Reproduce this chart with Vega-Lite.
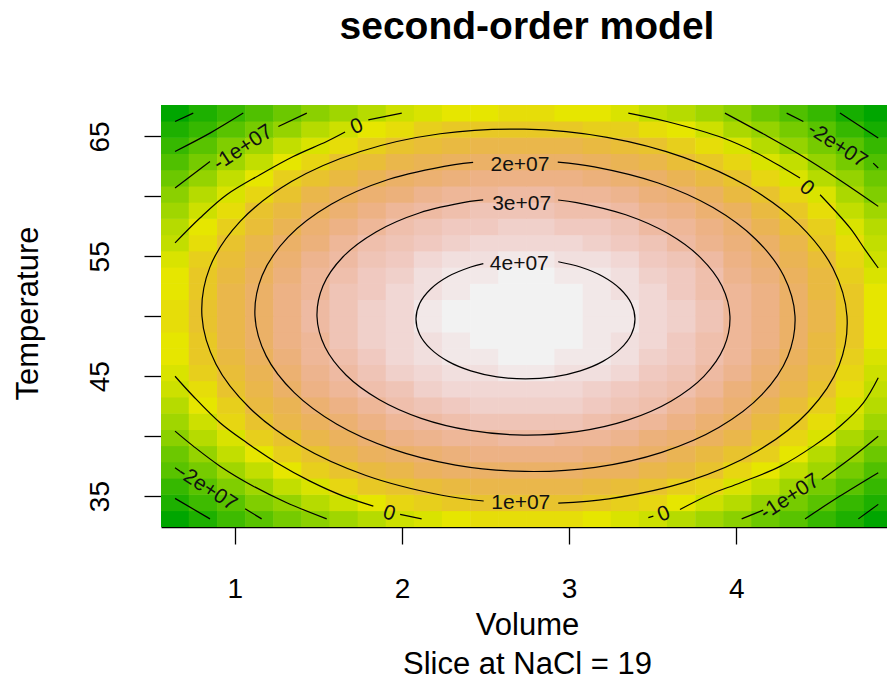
{
"$schema": "https://vega.github.io/schema/vega-lite/v6.json",
"width": 726,
"height": 422,
"autosize": {"type": "none"},
"padding": {"left": 161, "top": 105, "right": 0, "bottom": 153},
"background": "white",
"config": {"view": {"stroke": null}, "font": "Liberation Sans"},
"title": {"text": "second-order model", "font": "Liberation Sans", "fontSize": 39, "fontWeight": "bold", "color": "#000", "anchor": "middle", "baseline": "alphabetic", "offset": 27, "dx": 3},
"datasets": {
"grid": [
{"V":0.643,"T":33.1,"z":-34.8},{"V":0.811,"T":33.1,"z":-28.7},{"V":0.98,"T":33.1,"z":-23.1},{"V":1.148,"T":33.1,"z":-18.0},{"V":1.316,"T":33.1,"z":-13.5},{"V":1.484,"T":33.1,"z":-9.4},{"V":1.652,"T":33.1,"z":-5.9},{"V":1.821,"T":33.1,"z":-2.9},{"V":1.989,"T":33.1,"z":-0.3},{"V":2.157,"T":33.1,"z":1.7},{"V":2.325,"T":33.1,"z":3.2},{"V":2.494,"T":33.1,"z":4.2},{"V":2.662,"T":33.1,"z":4.6},{"V":2.83,"T":33.1,"z":4.6},{"V":2.998,"T":33.1,"z":4.1},{"V":3.167,"T":33.1,"z":3.0},{"V":3.335,"T":33.1,"z":1.5},{"V":3.503,"T":33.1,"z":-0.6},{"V":3.671,"T":33.1,"z":-3.2},{"V":3.84,"T":33.1,"z":-6.2},{"V":4.008,"T":33.1,"z":-9.8},{"V":4.176,"T":33.1,"z":-13.9},{"V":4.344,"T":33.1,"z":-18.5},{"V":4.513,"T":33.1,"z":-23.7},{"V":4.681,"T":33.1,"z":-29.3},{"V":4.849,"T":33.1,"z":-35.4},
{"V":0.643,"T":34.45,"z":-28.8},{"V":0.811,"T":34.45,"z":-22.7},{"V":0.98,"T":34.45,"z":-17.1},{"V":1.148,"T":34.45,"z":-12.0},{"V":1.316,"T":34.45,"z":-7.5},{"V":1.484,"T":34.45,"z":-3.4},{"V":1.652,"T":34.45,"z":0.1},{"V":1.821,"T":34.45,"z":3.1},{"V":1.989,"T":34.45,"z":5.7},{"V":2.157,"T":34.45,"z":7.7},{"V":2.325,"T":34.45,"z":9.2},{"V":2.494,"T":34.45,"z":10.2},{"V":2.662,"T":34.45,"z":10.6},{"V":2.83,"T":34.45,"z":10.6},{"V":2.998,"T":34.45,"z":10.1},{"V":3.167,"T":34.45,"z":9.0},{"V":3.335,"T":34.45,"z":7.5},{"V":3.503,"T":34.45,"z":5.4},{"V":3.671,"T":34.45,"z":2.8},{"V":3.84,"T":34.45,"z":-0.2},{"V":4.008,"T":34.45,"z":-3.8},{"V":4.176,"T":34.45,"z":-7.9},{"V":4.344,"T":34.45,"z":-12.5},{"V":4.513,"T":34.45,"z":-17.7},{"V":4.681,"T":34.45,"z":-23.3},{"V":4.849,"T":34.45,"z":-29.4},
{"V":0.643,"T":35.81,"z":-23.3},{"V":0.811,"T":35.81,"z":-17.2},{"V":0.98,"T":35.81,"z":-11.6},{"V":1.148,"T":35.81,"z":-6.5},{"V":1.316,"T":35.81,"z":-2.0},{"V":1.484,"T":35.81,"z":2.1},{"V":1.652,"T":35.81,"z":5.6},{"V":1.821,"T":35.81,"z":8.6},{"V":1.989,"T":35.81,"z":11.2},{"V":2.157,"T":35.81,"z":13.2},{"V":2.325,"T":35.81,"z":14.7},{"V":2.494,"T":35.81,"z":15.7},{"V":2.662,"T":35.81,"z":16.1},{"V":2.83,"T":35.81,"z":16.1},{"V":2.998,"T":35.81,"z":15.6},{"V":3.167,"T":35.81,"z":14.5},{"V":3.335,"T":35.81,"z":13.0},{"V":3.503,"T":35.81,"z":10.9},{"V":3.671,"T":35.81,"z":8.3},{"V":3.84,"T":35.81,"z":5.3},{"V":4.008,"T":35.81,"z":1.7},{"V":4.176,"T":35.81,"z":-2.4},{"V":4.344,"T":35.81,"z":-7.0},{"V":4.513,"T":35.81,"z":-12.2},{"V":4.681,"T":35.81,"z":-17.8},{"V":4.849,"T":35.81,"z":-23.9},
{"V":0.643,"T":37.16,"z":-18.3},{"V":0.811,"T":37.16,"z":-12.2},{"V":0.98,"T":37.16,"z":-6.6},{"V":1.148,"T":37.16,"z":-1.5},{"V":1.316,"T":37.16,"z":3.0},{"V":1.484,"T":37.16,"z":7.1},{"V":1.652,"T":37.16,"z":10.6},{"V":1.821,"T":37.16,"z":13.6},{"V":1.989,"T":37.16,"z":16.2},{"V":2.157,"T":37.16,"z":18.2},{"V":2.325,"T":37.16,"z":19.7},{"V":2.494,"T":37.16,"z":20.7},{"V":2.662,"T":37.16,"z":21.1},{"V":2.83,"T":37.16,"z":21.1},{"V":2.998,"T":37.16,"z":20.6},{"V":3.167,"T":37.16,"z":19.5},{"V":3.335,"T":37.16,"z":18.0},{"V":3.503,"T":37.16,"z":15.9},{"V":3.671,"T":37.16,"z":13.3},{"V":3.84,"T":37.16,"z":10.3},{"V":4.008,"T":37.16,"z":6.7},{"V":4.176,"T":37.16,"z":2.6},{"V":4.344,"T":37.16,"z":-2.0},{"V":4.513,"T":37.16,"z":-7.2},{"V":4.681,"T":37.16,"z":-12.8},{"V":4.849,"T":37.16,"z":-18.9},
{"V":0.643,"T":38.52,"z":-13.9},{"V":0.811,"T":38.52,"z":-7.8},{"V":0.98,"T":38.52,"z":-2.2},{"V":1.148,"T":38.52,"z":2.9},{"V":1.316,"T":38.52,"z":7.4},{"V":1.484,"T":38.52,"z":11.5},{"V":1.652,"T":38.52,"z":15.0},{"V":1.821,"T":38.52,"z":18.0},{"V":1.989,"T":38.52,"z":20.6},{"V":2.157,"T":38.52,"z":22.6},{"V":2.325,"T":38.52,"z":24.1},{"V":2.494,"T":38.52,"z":25.1},{"V":2.662,"T":38.52,"z":25.5},{"V":2.83,"T":38.52,"z":25.5},{"V":2.998,"T":38.52,"z":25.0},{"V":3.167,"T":38.52,"z":23.9},{"V":3.335,"T":38.52,"z":22.4},{"V":3.503,"T":38.52,"z":20.3},{"V":3.671,"T":38.52,"z":17.7},{"V":3.84,"T":38.52,"z":14.7},{"V":4.008,"T":38.52,"z":11.1},{"V":4.176,"T":38.52,"z":7.0},{"V":4.344,"T":38.52,"z":2.4},{"V":4.513,"T":38.52,"z":-2.8},{"V":4.681,"T":38.52,"z":-8.4},{"V":4.849,"T":38.52,"z":-14.5},
{"V":0.643,"T":39.87,"z":-9.9},{"V":0.811,"T":39.87,"z":-3.8},{"V":0.98,"T":39.87,"z":1.8},{"V":1.148,"T":39.87,"z":6.9},{"V":1.316,"T":39.87,"z":11.4},{"V":1.484,"T":39.87,"z":15.5},{"V":1.652,"T":39.87,"z":19.0},{"V":1.821,"T":39.87,"z":22.0},{"V":1.989,"T":39.87,"z":24.6},{"V":2.157,"T":39.87,"z":26.6},{"V":2.325,"T":39.87,"z":28.1},{"V":2.494,"T":39.87,"z":29.1},{"V":2.662,"T":39.87,"z":29.5},{"V":2.83,"T":39.87,"z":29.5},{"V":2.998,"T":39.87,"z":29.0},{"V":3.167,"T":39.87,"z":27.9},{"V":3.335,"T":39.87,"z":26.4},{"V":3.503,"T":39.87,"z":24.3},{"V":3.671,"T":39.87,"z":21.7},{"V":3.84,"T":39.87,"z":18.7},{"V":4.008,"T":39.87,"z":15.1},{"V":4.176,"T":39.87,"z":11.0},{"V":4.344,"T":39.87,"z":6.4},{"V":4.513,"T":39.87,"z":1.2},{"V":4.681,"T":39.87,"z":-4.4},{"V":4.849,"T":39.87,"z":-10.5},
{"V":0.643,"T":41.22,"z":-6.4},{"V":0.811,"T":41.22,"z":-0.3},{"V":0.98,"T":41.22,"z":5.3},{"V":1.148,"T":41.22,"z":10.4},{"V":1.316,"T":41.22,"z":14.9},{"V":1.484,"T":41.22,"z":19.0},{"V":1.652,"T":41.22,"z":22.5},{"V":1.821,"T":41.22,"z":25.5},{"V":1.989,"T":41.22,"z":28.1},{"V":2.157,"T":41.22,"z":30.1},{"V":2.325,"T":41.22,"z":31.6},{"V":2.494,"T":41.22,"z":32.6},{"V":2.662,"T":41.22,"z":33.0},{"V":2.83,"T":41.22,"z":33.0},{"V":2.998,"T":41.22,"z":32.5},{"V":3.167,"T":41.22,"z":31.4},{"V":3.335,"T":41.22,"z":29.9},{"V":3.503,"T":41.22,"z":27.8},{"V":3.671,"T":41.22,"z":25.2},{"V":3.84,"T":41.22,"z":22.2},{"V":4.008,"T":41.22,"z":18.6},{"V":4.176,"T":41.22,"z":14.5},{"V":4.344,"T":41.22,"z":9.9},{"V":4.513,"T":41.22,"z":4.7},{"V":4.681,"T":41.22,"z":-0.9},{"V":4.849,"T":41.22,"z":-7.0},
{"V":0.643,"T":42.58,"z":-3.4},{"V":0.811,"T":42.58,"z":2.7},{"V":0.98,"T":42.58,"z":8.3},{"V":1.148,"T":42.58,"z":13.4},{"V":1.316,"T":42.58,"z":17.9},{"V":1.484,"T":42.58,"z":22.0},{"V":1.652,"T":42.58,"z":25.5},{"V":1.821,"T":42.58,"z":28.5},{"V":1.989,"T":42.58,"z":31.1},{"V":2.157,"T":42.58,"z":33.1},{"V":2.325,"T":42.58,"z":34.6},{"V":2.494,"T":42.58,"z":35.6},{"V":2.662,"T":42.58,"z":36.0},{"V":2.83,"T":42.58,"z":36.0},{"V":2.998,"T":42.58,"z":35.5},{"V":3.167,"T":42.58,"z":34.4},{"V":3.335,"T":42.58,"z":32.9},{"V":3.503,"T":42.58,"z":30.8},{"V":3.671,"T":42.58,"z":28.2},{"V":3.84,"T":42.58,"z":25.2},{"V":4.008,"T":42.58,"z":21.6},{"V":4.176,"T":42.58,"z":17.5},{"V":4.344,"T":42.58,"z":12.9},{"V":4.513,"T":42.58,"z":7.7},{"V":4.681,"T":42.58,"z":2.1},{"V":4.849,"T":42.58,"z":-4.0},
{"V":0.643,"T":43.93,"z":-0.9},{"V":0.811,"T":43.93,"z":5.2},{"V":0.98,"T":43.93,"z":10.8},{"V":1.148,"T":43.93,"z":15.9},{"V":1.316,"T":43.93,"z":20.4},{"V":1.484,"T":43.93,"z":24.5},{"V":1.652,"T":43.93,"z":28.0},{"V":1.821,"T":43.93,"z":31.0},{"V":1.989,"T":43.93,"z":33.6},{"V":2.157,"T":43.93,"z":35.6},{"V":2.325,"T":43.93,"z":37.1},{"V":2.494,"T":43.93,"z":38.1},{"V":2.662,"T":43.93,"z":38.5},{"V":2.83,"T":43.93,"z":38.5},{"V":2.998,"T":43.93,"z":38.0},{"V":3.167,"T":43.93,"z":36.9},{"V":3.335,"T":43.93,"z":35.4},{"V":3.503,"T":43.93,"z":33.3},{"V":3.671,"T":43.93,"z":30.7},{"V":3.84,"T":43.93,"z":27.7},{"V":4.008,"T":43.93,"z":24.1},{"V":4.176,"T":43.93,"z":20.0},{"V":4.344,"T":43.93,"z":15.4},{"V":4.513,"T":43.93,"z":10.2},{"V":4.681,"T":43.93,"z":4.6},{"V":4.849,"T":43.93,"z":-1.5},
{"V":0.643,"T":45.29,"z":1.1},{"V":0.811,"T":45.29,"z":7.2},{"V":0.98,"T":45.29,"z":12.8},{"V":1.148,"T":45.29,"z":17.9},{"V":1.316,"T":45.29,"z":22.4},{"V":1.484,"T":45.29,"z":26.5},{"V":1.652,"T":45.29,"z":30.0},{"V":1.821,"T":45.29,"z":33.0},{"V":1.989,"T":45.29,"z":35.6},{"V":2.157,"T":45.29,"z":37.6},{"V":2.325,"T":45.29,"z":39.1},{"V":2.494,"T":45.29,"z":40.1},{"V":2.662,"T":45.29,"z":40.5},{"V":2.83,"T":45.29,"z":40.5},{"V":2.998,"T":45.29,"z":40.0},{"V":3.167,"T":45.29,"z":38.9},{"V":3.335,"T":45.29,"z":37.4},{"V":3.503,"T":45.29,"z":35.3},{"V":3.671,"T":45.29,"z":32.7},{"V":3.84,"T":45.29,"z":29.7},{"V":4.008,"T":45.29,"z":26.1},{"V":4.176,"T":45.29,"z":22.0},{"V":4.344,"T":45.29,"z":17.4},{"V":4.513,"T":45.29,"z":12.2},{"V":4.681,"T":45.29,"z":6.6},{"V":4.849,"T":45.29,"z":0.5},
{"V":0.643,"T":46.64,"z":2.6},{"V":0.811,"T":46.64,"z":8.7},{"V":0.98,"T":46.64,"z":14.3},{"V":1.148,"T":46.64,"z":19.4},{"V":1.316,"T":46.64,"z":23.9},{"V":1.484,"T":46.64,"z":28.0},{"V":1.652,"T":46.64,"z":31.5},{"V":1.821,"T":46.64,"z":34.5},{"V":1.989,"T":46.64,"z":37.1},{"V":2.157,"T":46.64,"z":39.1},{"V":2.325,"T":46.64,"z":40.6},{"V":2.494,"T":46.64,"z":41.6},{"V":2.662,"T":46.64,"z":42.0},{"V":2.83,"T":46.64,"z":42.0},{"V":2.998,"T":46.64,"z":41.5},{"V":3.167,"T":46.64,"z":40.4},{"V":3.335,"T":46.64,"z":38.9},{"V":3.503,"T":46.64,"z":36.8},{"V":3.671,"T":46.64,"z":34.2},{"V":3.84,"T":46.64,"z":31.2},{"V":4.008,"T":46.64,"z":27.6},{"V":4.176,"T":46.64,"z":23.5},{"V":4.344,"T":46.64,"z":18.9},{"V":4.513,"T":46.64,"z":13.7},{"V":4.681,"T":46.64,"z":8.1},{"V":4.849,"T":46.64,"z":2.0},
{"V":0.643,"T":47.99,"z":3.6},{"V":0.811,"T":47.99,"z":9.7},{"V":0.98,"T":47.99,"z":15.3},{"V":1.148,"T":47.99,"z":20.4},{"V":1.316,"T":47.99,"z":24.9},{"V":1.484,"T":47.99,"z":29.0},{"V":1.652,"T":47.99,"z":32.5},{"V":1.821,"T":47.99,"z":35.5},{"V":1.989,"T":47.99,"z":38.1},{"V":2.157,"T":47.99,"z":40.1},{"V":2.325,"T":47.99,"z":41.6},{"V":2.494,"T":47.99,"z":42.6},{"V":2.662,"T":47.99,"z":43.0},{"V":2.83,"T":47.99,"z":43.0},{"V":2.998,"T":47.99,"z":42.5},{"V":3.167,"T":47.99,"z":41.4},{"V":3.335,"T":47.99,"z":39.9},{"V":3.503,"T":47.99,"z":37.8},{"V":3.671,"T":47.99,"z":35.2},{"V":3.84,"T":47.99,"z":32.2},{"V":4.008,"T":47.99,"z":28.6},{"V":4.176,"T":47.99,"z":24.5},{"V":4.344,"T":47.99,"z":19.9},{"V":4.513,"T":47.99,"z":14.7},{"V":4.681,"T":47.99,"z":9.1},{"V":4.849,"T":47.99,"z":3.0},
{"V":0.643,"T":49.35,"z":4.0},{"V":0.811,"T":49.35,"z":10.1},{"V":0.98,"T":49.35,"z":15.7},{"V":1.148,"T":49.35,"z":20.8},{"V":1.316,"T":49.35,"z":25.3},{"V":1.484,"T":49.35,"z":29.4},{"V":1.652,"T":49.35,"z":32.9},{"V":1.821,"T":49.35,"z":35.9},{"V":1.989,"T":49.35,"z":38.5},{"V":2.157,"T":49.35,"z":40.5},{"V":2.325,"T":49.35,"z":42.0},{"V":2.494,"T":49.35,"z":43.0},{"V":2.662,"T":49.35,"z":43.4},{"V":2.83,"T":49.35,"z":43.4},{"V":2.998,"T":49.35,"z":42.9},{"V":3.167,"T":49.35,"z":41.8},{"V":3.335,"T":49.35,"z":40.3},{"V":3.503,"T":49.35,"z":38.2},{"V":3.671,"T":49.35,"z":35.6},{"V":3.84,"T":49.35,"z":32.6},{"V":4.008,"T":49.35,"z":29.0},{"V":4.176,"T":49.35,"z":24.9},{"V":4.344,"T":49.35,"z":20.3},{"V":4.513,"T":49.35,"z":15.1},{"V":4.681,"T":49.35,"z":9.5},{"V":4.849,"T":49.35,"z":3.4},
{"V":0.643,"T":50.7,"z":4.0},{"V":0.811,"T":50.7,"z":10.1},{"V":0.98,"T":50.7,"z":15.7},{"V":1.148,"T":50.7,"z":20.8},{"V":1.316,"T":50.7,"z":25.3},{"V":1.484,"T":50.7,"z":29.4},{"V":1.652,"T":50.7,"z":32.9},{"V":1.821,"T":50.7,"z":35.9},{"V":1.989,"T":50.7,"z":38.5},{"V":2.157,"T":50.7,"z":40.5},{"V":2.325,"T":50.7,"z":42.0},{"V":2.494,"T":50.7,"z":43.0},{"V":2.662,"T":50.7,"z":43.4},{"V":2.83,"T":50.7,"z":43.4},{"V":2.998,"T":50.7,"z":42.9},{"V":3.167,"T":50.7,"z":41.8},{"V":3.335,"T":50.7,"z":40.3},{"V":3.503,"T":50.7,"z":38.2},{"V":3.671,"T":50.7,"z":35.6},{"V":3.84,"T":50.7,"z":32.6},{"V":4.008,"T":50.7,"z":29.0},{"V":4.176,"T":50.7,"z":24.9},{"V":4.344,"T":50.7,"z":20.3},{"V":4.513,"T":50.7,"z":15.1},{"V":4.681,"T":50.7,"z":9.5},{"V":4.849,"T":50.7,"z":3.4},
{"V":0.643,"T":52.06,"z":3.5},{"V":0.811,"T":52.06,"z":9.6},{"V":0.98,"T":52.06,"z":15.2},{"V":1.148,"T":52.06,"z":20.3},{"V":1.316,"T":52.06,"z":24.8},{"V":1.484,"T":52.06,"z":28.9},{"V":1.652,"T":52.06,"z":32.4},{"V":1.821,"T":52.06,"z":35.4},{"V":1.989,"T":52.06,"z":38.0},{"V":2.157,"T":52.06,"z":40.0},{"V":2.325,"T":52.06,"z":41.5},{"V":2.494,"T":52.06,"z":42.5},{"V":2.662,"T":52.06,"z":42.9},{"V":2.83,"T":52.06,"z":42.9},{"V":2.998,"T":52.06,"z":42.4},{"V":3.167,"T":52.06,"z":41.3},{"V":3.335,"T":52.06,"z":39.8},{"V":3.503,"T":52.06,"z":37.7},{"V":3.671,"T":52.06,"z":35.1},{"V":3.84,"T":52.06,"z":32.1},{"V":4.008,"T":52.06,"z":28.5},{"V":4.176,"T":52.06,"z":24.4},{"V":4.344,"T":52.06,"z":19.8},{"V":4.513,"T":52.06,"z":14.6},{"V":4.681,"T":52.06,"z":9.0},{"V":4.849,"T":52.06,"z":2.9},
{"V":0.643,"T":53.41,"z":2.5},{"V":0.811,"T":53.41,"z":8.6},{"V":0.98,"T":53.41,"z":14.2},{"V":1.148,"T":53.41,"z":19.3},{"V":1.316,"T":53.41,"z":23.8},{"V":1.484,"T":53.41,"z":27.9},{"V":1.652,"T":53.41,"z":31.4},{"V":1.821,"T":53.41,"z":34.4},{"V":1.989,"T":53.41,"z":37.0},{"V":2.157,"T":53.41,"z":39.0},{"V":2.325,"T":53.41,"z":40.5},{"V":2.494,"T":53.41,"z":41.5},{"V":2.662,"T":53.41,"z":41.9},{"V":2.83,"T":53.41,"z":41.9},{"V":2.998,"T":53.41,"z":41.4},{"V":3.167,"T":53.41,"z":40.3},{"V":3.335,"T":53.41,"z":38.8},{"V":3.503,"T":53.41,"z":36.7},{"V":3.671,"T":53.41,"z":34.1},{"V":3.84,"T":53.41,"z":31.1},{"V":4.008,"T":53.41,"z":27.5},{"V":4.176,"T":53.41,"z":23.4},{"V":4.344,"T":53.41,"z":18.8},{"V":4.513,"T":53.41,"z":13.6},{"V":4.681,"T":53.41,"z":8.0},{"V":4.849,"T":53.41,"z":1.9},
{"V":0.643,"T":54.76,"z":0.9},{"V":0.811,"T":54.76,"z":7.0},{"V":0.98,"T":54.76,"z":12.6},{"V":1.148,"T":54.76,"z":17.7},{"V":1.316,"T":54.76,"z":22.2},{"V":1.484,"T":54.76,"z":26.3},{"V":1.652,"T":54.76,"z":29.8},{"V":1.821,"T":54.76,"z":32.8},{"V":1.989,"T":54.76,"z":35.4},{"V":2.157,"T":54.76,"z":37.4},{"V":2.325,"T":54.76,"z":38.9},{"V":2.494,"T":54.76,"z":39.9},{"V":2.662,"T":54.76,"z":40.3},{"V":2.83,"T":54.76,"z":40.3},{"V":2.998,"T":54.76,"z":39.8},{"V":3.167,"T":54.76,"z":38.7},{"V":3.335,"T":54.76,"z":37.2},{"V":3.503,"T":54.76,"z":35.1},{"V":3.671,"T":54.76,"z":32.5},{"V":3.84,"T":54.76,"z":29.5},{"V":4.008,"T":54.76,"z":25.9},{"V":4.176,"T":54.76,"z":21.8},{"V":4.344,"T":54.76,"z":17.2},{"V":4.513,"T":54.76,"z":12.0},{"V":4.681,"T":54.76,"z":6.4},{"V":4.849,"T":54.76,"z":0.3},
{"V":0.643,"T":56.12,"z":-1.1},{"V":0.811,"T":56.12,"z":5.0},{"V":0.98,"T":56.12,"z":10.6},{"V":1.148,"T":56.12,"z":15.7},{"V":1.316,"T":56.12,"z":20.2},{"V":1.484,"T":56.12,"z":24.3},{"V":1.652,"T":56.12,"z":27.8},{"V":1.821,"T":56.12,"z":30.8},{"V":1.989,"T":56.12,"z":33.4},{"V":2.157,"T":56.12,"z":35.4},{"V":2.325,"T":56.12,"z":36.9},{"V":2.494,"T":56.12,"z":37.9},{"V":2.662,"T":56.12,"z":38.3},{"V":2.83,"T":56.12,"z":38.3},{"V":2.998,"T":56.12,"z":37.8},{"V":3.167,"T":56.12,"z":36.7},{"V":3.335,"T":56.12,"z":35.2},{"V":3.503,"T":56.12,"z":33.1},{"V":3.671,"T":56.12,"z":30.5},{"V":3.84,"T":56.12,"z":27.5},{"V":4.008,"T":56.12,"z":23.9},{"V":4.176,"T":56.12,"z":19.8},{"V":4.344,"T":56.12,"z":15.2},{"V":4.513,"T":56.12,"z":10.0},{"V":4.681,"T":56.12,"z":4.4},{"V":4.849,"T":56.12,"z":-1.7},
{"V":0.643,"T":57.47,"z":-3.6},{"V":0.811,"T":57.47,"z":2.5},{"V":0.98,"T":57.47,"z":8.1},{"V":1.148,"T":57.47,"z":13.2},{"V":1.316,"T":57.47,"z":17.7},{"V":1.484,"T":57.47,"z":21.8},{"V":1.652,"T":57.47,"z":25.3},{"V":1.821,"T":57.47,"z":28.3},{"V":1.989,"T":57.47,"z":30.9},{"V":2.157,"T":57.47,"z":32.9},{"V":2.325,"T":57.47,"z":34.4},{"V":2.494,"T":57.47,"z":35.4},{"V":2.662,"T":57.47,"z":35.8},{"V":2.83,"T":57.47,"z":35.8},{"V":2.998,"T":57.47,"z":35.3},{"V":3.167,"T":57.47,"z":34.2},{"V":3.335,"T":57.47,"z":32.7},{"V":3.503,"T":57.47,"z":30.6},{"V":3.671,"T":57.47,"z":28.0},{"V":3.84,"T":57.47,"z":25.0},{"V":4.008,"T":57.47,"z":21.4},{"V":4.176,"T":57.47,"z":17.3},{"V":4.344,"T":57.47,"z":12.7},{"V":4.513,"T":57.47,"z":7.5},{"V":4.681,"T":57.47,"z":1.9},{"V":4.849,"T":57.47,"z":-4.2},
{"V":0.643,"T":58.83,"z":-6.7},{"V":0.811,"T":58.83,"z":-0.6},{"V":0.98,"T":58.83,"z":5.0},{"V":1.148,"T":58.83,"z":10.1},{"V":1.316,"T":58.83,"z":14.6},{"V":1.484,"T":58.83,"z":18.7},{"V":1.652,"T":58.83,"z":22.2},{"V":1.821,"T":58.83,"z":25.2},{"V":1.989,"T":58.83,"z":27.8},{"V":2.157,"T":58.83,"z":29.8},{"V":2.325,"T":58.83,"z":31.3},{"V":2.494,"T":58.83,"z":32.3},{"V":2.662,"T":58.83,"z":32.7},{"V":2.83,"T":58.83,"z":32.7},{"V":2.998,"T":58.83,"z":32.2},{"V":3.167,"T":58.83,"z":31.1},{"V":3.335,"T":58.83,"z":29.6},{"V":3.503,"T":58.83,"z":27.5},{"V":3.671,"T":58.83,"z":24.9},{"V":3.84,"T":58.83,"z":21.9},{"V":4.008,"T":58.83,"z":18.3},{"V":4.176,"T":58.83,"z":14.2},{"V":4.344,"T":58.83,"z":9.6},{"V":4.513,"T":58.83,"z":4.4},{"V":4.681,"T":58.83,"z":-1.2},{"V":4.849,"T":58.83,"z":-7.3},
{"V":0.643,"T":60.18,"z":-10.2},{"V":0.811,"T":60.18,"z":-4.1},{"V":0.98,"T":60.18,"z":1.5},{"V":1.148,"T":60.18,"z":6.6},{"V":1.316,"T":60.18,"z":11.1},{"V":1.484,"T":60.18,"z":15.2},{"V":1.652,"T":60.18,"z":18.7},{"V":1.821,"T":60.18,"z":21.7},{"V":1.989,"T":60.18,"z":24.3},{"V":2.157,"T":60.18,"z":26.3},{"V":2.325,"T":60.18,"z":27.8},{"V":2.494,"T":60.18,"z":28.8},{"V":2.662,"T":60.18,"z":29.2},{"V":2.83,"T":60.18,"z":29.2},{"V":2.998,"T":60.18,"z":28.7},{"V":3.167,"T":60.18,"z":27.6},{"V":3.335,"T":60.18,"z":26.1},{"V":3.503,"T":60.18,"z":24.0},{"V":3.671,"T":60.18,"z":21.4},{"V":3.84,"T":60.18,"z":18.4},{"V":4.008,"T":60.18,"z":14.8},{"V":4.176,"T":60.18,"z":10.7},{"V":4.344,"T":60.18,"z":6.1},{"V":4.513,"T":60.18,"z":0.9},{"V":4.681,"T":60.18,"z":-4.7},{"V":4.849,"T":60.18,"z":-10.8},
{"V":0.643,"T":61.53,"z":-14.2},{"V":0.811,"T":61.53,"z":-8.1},{"V":0.98,"T":61.53,"z":-2.5},{"V":1.148,"T":61.53,"z":2.6},{"V":1.316,"T":61.53,"z":7.1},{"V":1.484,"T":61.53,"z":11.2},{"V":1.652,"T":61.53,"z":14.7},{"V":1.821,"T":61.53,"z":17.7},{"V":1.989,"T":61.53,"z":20.3},{"V":2.157,"T":61.53,"z":22.3},{"V":2.325,"T":61.53,"z":23.8},{"V":2.494,"T":61.53,"z":24.8},{"V":2.662,"T":61.53,"z":25.2},{"V":2.83,"T":61.53,"z":25.2},{"V":2.998,"T":61.53,"z":24.7},{"V":3.167,"T":61.53,"z":23.6},{"V":3.335,"T":61.53,"z":22.1},{"V":3.503,"T":61.53,"z":20.0},{"V":3.671,"T":61.53,"z":17.4},{"V":3.84,"T":61.53,"z":14.4},{"V":4.008,"T":61.53,"z":10.8},{"V":4.176,"T":61.53,"z":6.7},{"V":4.344,"T":61.53,"z":2.1},{"V":4.513,"T":61.53,"z":-3.1},{"V":4.681,"T":61.53,"z":-8.7},{"V":4.849,"T":61.53,"z":-14.8},
{"V":0.643,"T":62.89,"z":-18.8},{"V":0.811,"T":62.89,"z":-12.7},{"V":0.98,"T":62.89,"z":-7.1},{"V":1.148,"T":62.89,"z":-2.0},{"V":1.316,"T":62.89,"z":2.5},{"V":1.484,"T":62.89,"z":6.6},{"V":1.652,"T":62.89,"z":10.1},{"V":1.821,"T":62.89,"z":13.1},{"V":1.989,"T":62.89,"z":15.7},{"V":2.157,"T":62.89,"z":17.7},{"V":2.325,"T":62.89,"z":19.2},{"V":2.494,"T":62.89,"z":20.2},{"V":2.662,"T":62.89,"z":20.6},{"V":2.83,"T":62.89,"z":20.6},{"V":2.998,"T":62.89,"z":20.1},{"V":3.167,"T":62.89,"z":19.0},{"V":3.335,"T":62.89,"z":17.5},{"V":3.503,"T":62.89,"z":15.4},{"V":3.671,"T":62.89,"z":12.8},{"V":3.84,"T":62.89,"z":9.8},{"V":4.008,"T":62.89,"z":6.2},{"V":4.176,"T":62.89,"z":2.1},{"V":4.344,"T":62.89,"z":-2.5},{"V":4.513,"T":62.89,"z":-7.7},{"V":4.681,"T":62.89,"z":-13.3},{"V":4.849,"T":62.89,"z":-19.4},
{"V":0.643,"T":64.24,"z":-23.8},{"V":0.811,"T":64.24,"z":-17.7},{"V":0.98,"T":64.24,"z":-12.1},{"V":1.148,"T":64.24,"z":-7.0},{"V":1.316,"T":64.24,"z":-2.5},{"V":1.484,"T":64.24,"z":1.6},{"V":1.652,"T":64.24,"z":5.1},{"V":1.821,"T":64.24,"z":8.1},{"V":1.989,"T":64.24,"z":10.7},{"V":2.157,"T":64.24,"z":12.7},{"V":2.325,"T":64.24,"z":14.2},{"V":2.494,"T":64.24,"z":15.2},{"V":2.662,"T":64.24,"z":15.6},{"V":2.83,"T":64.24,"z":15.6},{"V":2.998,"T":64.24,"z":15.1},{"V":3.167,"T":64.24,"z":14.0},{"V":3.335,"T":64.24,"z":12.5},{"V":3.503,"T":64.24,"z":10.4},{"V":3.671,"T":64.24,"z":7.8},{"V":3.84,"T":64.24,"z":4.8},{"V":4.008,"T":64.24,"z":1.2},{"V":4.176,"T":64.24,"z":-2.9},{"V":4.344,"T":64.24,"z":-7.5},{"V":4.513,"T":64.24,"z":-12.7},{"V":4.681,"T":64.24,"z":-18.3},{"V":4.849,"T":64.24,"z":-24.4},
{"V":0.643,"T":65.6,"z":-29.4},{"V":0.811,"T":65.6,"z":-23.3},{"V":0.98,"T":65.6,"z":-17.7},{"V":1.148,"T":65.6,"z":-12.6},{"V":1.316,"T":65.6,"z":-8.1},{"V":1.484,"T":65.6,"z":-4.0},{"V":1.652,"T":65.6,"z":-0.5},{"V":1.821,"T":65.6,"z":2.5},{"V":1.989,"T":65.6,"z":5.1},{"V":2.157,"T":65.6,"z":7.1},{"V":2.325,"T":65.6,"z":8.6},{"V":2.494,"T":65.6,"z":9.6},{"V":2.662,"T":65.6,"z":10.0},{"V":2.83,"T":65.6,"z":10.0},{"V":2.998,"T":65.6,"z":9.5},{"V":3.167,"T":65.6,"z":8.4},{"V":3.335,"T":65.6,"z":6.9},{"V":3.503,"T":65.6,"z":4.8},{"V":3.671,"T":65.6,"z":2.2},{"V":3.84,"T":65.6,"z":-0.8},{"V":4.008,"T":65.6,"z":-4.4},{"V":4.176,"T":65.6,"z":-8.5},{"V":4.344,"T":65.6,"z":-13.1},{"V":4.513,"T":65.6,"z":-18.3},{"V":4.681,"T":65.6,"z":-23.9},{"V":4.849,"T":65.6,"z":-30.0},
{"V":0.643,"T":66.95,"z":-35.4},{"V":0.811,"T":66.95,"z":-29.3},{"V":0.98,"T":66.95,"z":-23.7},{"V":1.148,"T":66.95,"z":-18.6},{"V":1.316,"T":66.95,"z":-14.1},{"V":1.484,"T":66.95,"z":-10.0},{"V":1.652,"T":66.95,"z":-6.5},{"V":1.821,"T":66.95,"z":-3.5},{"V":1.989,"T":66.95,"z":-0.9},{"V":2.157,"T":66.95,"z":1.1},{"V":2.325,"T":66.95,"z":2.6},{"V":2.494,"T":66.95,"z":3.6},{"V":2.662,"T":66.95,"z":4.0},{"V":2.83,"T":66.95,"z":4.0},{"V":2.998,"T":66.95,"z":3.5},{"V":3.167,"T":66.95,"z":2.4},{"V":3.335,"T":66.95,"z":0.9},{"V":3.503,"T":66.95,"z":-1.2},{"V":3.671,"T":66.95,"z":-3.8},{"V":3.84,"T":66.95,"z":-6.8},{"V":4.008,"T":66.95,"z":-10.4},{"V":4.176,"T":66.95,"z":-14.5},{"V":4.344,"T":66.95,"z":-19.1},{"V":4.513,"T":66.95,"z":-24.3},{"V":4.681,"T":66.95,"z":-29.9},{"V":4.849,"T":66.95,"z":-36.0}
],
"lines": [
{"id":"m30tl","V":0.643,"T":66.25},{"id":"m30tl","V":0.752,"T":66.95},
{"id":"m20tl","V":0.643,"T":63.75},{"id":"m20tl","V":0.852,"T":65.28},{"id":"m20tl","V":1.051,"T":66.95},
{"id":"m10tla","V":0.643,"T":60.7},{"id":"m10tla","V":0.852,"T":62.92},
{"id":"m10tlb","V":1.261,"T":65.83},{"id":"m10tlb","V":1.431,"T":66.95},
{"id":"z0tla","V":0.643,"T":56.12},{"id":"z0tla","V":0.792,"T":58.2},{"id":"z0tla","V":0.952,"T":60.14},{"id":"z0tla","V":1.151,"T":61.81},{"id":"z0tla","V":1.35,"T":63.33},{"id":"z0tla","V":1.55,"T":64.58},{"id":"z0tla","V":1.66,"T":65.37},
{"id":"z0tlb","V":1.799,"T":66.39},{"id":"z0tlb","V":1.999,"T":66.95},
{"id":"z0tra","V":3.354,"T":66.95},{"id":"z0tra","V":3.584,"T":66.25},{"id":"z0tra","V":3.922,"T":64.87},{"id":"z0tra","V":4.122,"T":63.62},{"id":"z0tra","V":4.281,"T":62.37},{"id":"z0tra","V":4.381,"T":61.53},
{"id":"z0trb","V":4.501,"T":60.14},{"id":"z0trb","V":4.68,"T":57.37},{"id":"z0trb","V":4.77,"T":55.56},{"id":"z0trb","V":4.849,"T":54.03},
{"id":"m10tr","V":3.932,"T":66.95},{"id":"m10tr","V":4.166,"T":65.18},{"id":"m10tr","V":4.391,"T":63.39},{"id":"m10tr","V":4.62,"T":61.35},{"id":"m10tr","V":4.849,"T":59.17},
{"id":"m20tra","V":4.301,"T":66.95},{"id":"m20tra","V":4.401,"T":66.25},
{"id":"m20trb","V":4.819,"T":62.78},{"id":"m20trb","V":4.849,"T":62.37},
{"id":"m30tr","V":4.62,"T":66.95},{"id":"m30tr","V":4.849,"T":64.87},
{"id":"m30bl","V":0.643,"T":34.81},{"id":"m30bl","V":0.852,"T":33.1},
{"id":"m20bla","V":0.643,"T":37.37},{"id":"m20bla","V":0.673,"T":37.08},
{"id":"m20blb","V":1.062,"T":33.95},{"id":"m20blb","V":1.161,"T":33.1},
{"id":"m10bl","V":0.643,"T":40.42},{"id":"m10bl","V":0.752,"T":39.17},{"id":"m10bl","V":0.912,"T":37.5},{"id":"m10bl","V":1.111,"T":35.83},{"id":"m10bl","V":1.311,"T":34.45},{"id":"m10bl","V":1.55,"T":33.1},
{"id":"z0bla","V":0.643,"T":45.0},{"id":"z0bla","V":0.752,"T":43.33},{"id":"z0bla","V":0.912,"T":41.12},{"id":"z0bla","V":1.072,"T":39.45},{"id":"z0bla","V":1.251,"T":37.78},{"id":"z0bla","V":1.45,"T":36.25},{"id":"z0bla","V":1.65,"T":35.0},{"id":"z0bla","V":1.829,"T":34.17},
{"id":"z0blb","V":1.989,"T":33.48},{"id":"z0blb","V":2.118,"T":33.1},
{"id":"m30br","V":4.73,"T":33.1},{"id":"m30br","V":4.849,"T":34.31},
{"id":"m20br","V":4.411,"T":33.1},{"id":"m20br","V":4.62,"T":35.0},{"id":"m20br","V":4.849,"T":36.95},
{"id":"m10bra","V":4.032,"T":33.1},{"id":"m10bra","V":4.161,"T":33.83},
{"id":"m10brb","V":4.511,"T":36.39},{"id":"m10brb","V":4.7,"T":38.33},{"id":"m10brb","V":4.849,"T":40.0},
{"id":"z0bra","V":3.474,"T":33.2},{"id":"z0bra","V":3.504,"T":33.33},
{"id":"z0brb","V":3.663,"T":33.89},{"id":"z0brb","V":3.843,"T":35.14},{"id":"z0brb","V":4.026,"T":36.12},{"id":"z0brb","V":4.265,"T":37.5},{"id":"z0brb","V":4.461,"T":39.17},{"id":"z0brb","V":4.62,"T":40.83},{"id":"z0brb","V":4.76,"T":42.78},{"id":"z0brb","V":4.849,"T":44.87},
{"id":"e10","V":2.489,"T":34.59},{"id":"e10","V":2.239,"T":35.07},{"id":"e10","V":1.785,"T":36.72},{"id":"e10","V":1.396,"T":39.18},{"id":"e10","V":1.091,"T":42.33},{"id":"e10","V":0.888,"T":46.0},{"id":"e10","V":0.804,"T":50.0},{"id":"e10","V":0.851,"T":54.08},{"id":"e10","V":1.034,"T":57.94},{"id":"e10","V":1.342,"T":61.26},{"id":"e10","V":1.752,"T":63.75},{"id":"e10","V":2.229,"T":65.23},{"id":"e10","V":2.733,"T":65.61},{"id":"e10","V":3.227,"T":64.93},{"id":"e10","V":3.681,"T":63.28},{"id":"e10","V":4.07,"T":60.82},{"id":"e10","V":4.375,"T":57.67},{"id":"e10","V":4.578,"T":54.0},{"id":"e10","V":4.662,"T":50.0},{"id":"e10","V":4.615,"T":45.92},{"id":"e10","V":4.432,"T":42.06},{"id":"e10","V":4.124,"T":38.74},{"id":"e10","V":3.714,"T":36.25},{"id":"e10","V":3.237,"T":34.77},{"id":"e10","V":2.935,"T":34.41},
{"id":"e20","V":2.932,"T":62.86},{"id":"e20","V":3.151,"T":62.47},{"id":"e20","V":3.533,"T":61.12},{"id":"e20","V":3.861,"T":59.07},{"id":"e20","V":4.116,"T":56.43},{"id":"e20","V":4.284,"T":53.36},{"id":"e20","V":4.351,"T":50.03},{"id":"e20","V":4.308,"T":46.65},{"id":"e20","V":4.153,"T":43.46},{"id":"e20","V":3.895,"T":40.72},{"id":"e20","V":3.554,"T":38.65},{"id":"e20","V":3.157,"T":37.4},{"id":"e20","V":2.736,"T":37.06},{"id":"e20","V":2.321,"T":37.59},{"id":"e20","V":1.939,"T":38.94},{"id":"e20","V":1.611,"T":40.99},{"id":"e20","V":1.356,"T":43.63},{"id":"e20","V":1.188,"T":46.7},{"id":"e20","V":1.121,"T":50.03},{"id":"e20","V":1.164,"T":53.41},{"id":"e20","V":1.319,"T":56.6},{"id":"e20","V":1.577,"T":59.34},{"id":"e20","V":1.918,"T":61.41},{"id":"e20","V":2.315,"T":62.66},{"id":"e20","V":2.426,"T":62.84},
{"id":"e30","V":2.934,"T":59.7},{"id":"e30","V":3.045,"T":59.49},{"id":"e30","V":3.339,"T":58.47},{"id":"e30","V":3.592,"T":56.9},{"id":"e30","V":3.787,"T":54.88},{"id":"e30","V":3.914,"T":52.53},{"id":"e30","V":3.962,"T":49.98},{"id":"e30","V":3.926,"T":47.41},{"id":"e30","V":3.806,"T":44.99},{"id":"e30","V":3.609,"T":42.92},{"id":"e30","V":3.35,"T":41.34},{"id":"e30","V":3.048,"T":40.38},{"id":"e30","V":2.727,"T":40.09},{"id":"e30","V":2.409,"T":40.48},{"id":"e30","V":2.115,"T":41.49},{"id":"e30","V":1.863,"T":43.06},{"id":"e30","V":1.667,"T":45.08},{"id":"e30","V":1.54,"T":47.43},{"id":"e30","V":1.492,"T":49.98},{"id":"e30","V":1.528,"T":52.55},{"id":"e30","V":1.648,"T":54.97},{"id":"e30","V":1.845,"T":57.04},{"id":"e30","V":2.104,"T":58.62},{"id":"e30","V":2.406,"T":59.58},{"id":"e30","V":2.486,"T":59.72},
{"id":"e40","V":2.935,"T":54.55},{"id":"e40","V":3.067,"T":54.11},{"id":"e40","V":3.202,"T":53.32},{"id":"e40","V":3.306,"T":52.28},{"id":"e40","V":3.372,"T":51.07},{"id":"e40","V":3.394,"T":49.78},{"id":"e40","V":3.372,"T":48.49},{"id":"e40","V":3.306,"T":47.28},{"id":"e40","V":3.202,"T":46.24},{"id":"e40","V":3.067,"T":45.45},{"id":"e40","V":2.909,"T":44.95},{"id":"e40","V":2.739,"T":44.78},{"id":"e40","V":2.569,"T":44.95},{"id":"e40","V":2.412,"T":45.45},{"id":"e40","V":2.276,"T":46.24},{"id":"e40","V":2.172,"T":47.28},{"id":"e40","V":2.106,"T":48.49},{"id":"e40","V":2.084,"T":49.78},{"id":"e40","V":2.106,"T":51.07},{"id":"e40","V":2.172,"T":52.28},{"id":"e40","V":2.276,"T":53.32},{"id":"e40","V":2.412,"T":54.11},{"id":"e40","V":2.487,"T":54.4}
],
"labels": [
{"id":"c20","text":"2e+07","V":2.706,"T":62.08},
{"id":"c30","text":"3e+07","V":2.716,"T":58.89},
{"id":"c40","text":"4e+07","V":2.702,"T":53.89},
{"id":"c10","text":"1e+07","V":2.711,"T":33.89},
{"id":"tl1","text":"-1e+07","V":1.05,"T":64.06},
{"id":"tl0","text":"0","V":1.731,"T":65.81},
{"id":"tr0","text":"0","V":4.421,"T":60.7},
{"id":"tr2","text":"-2e+07","V":4.604,"T":64.25},
{"id":"bl2","text":"-2e+07","V":0.835,"T":35.64},
{"id":"bl0","text":"0","V":1.923,"T":33.56},
{"id":"br0","text":"0","V":3.567,"T":33.48},
{"id":"br1","text":"-1e+07","V":4.321,"T":34.93}
]
},
"layer": [
{
"data": {"name": "grid"},
"mark": {"type": "point", "shape": "M-1,-0.587L1,-0.587L1,0.587L-1,0.587Z", "filled": true, "size": 824, "opacity": 1, "strokeWidth": 0, "clip": true},
"encoding": {
"x": {"field": "V", "type": "quantitative", "scale": {"domain": [0.559, 4.9013], "nice": false, "zero": false},
"axis": {"values": [1, 2, 3, 4], "format": "d", "grid": false, "tickSize": 17, "tickColor": "#000", "tickWidth": 1.3, "domain": true, "domainColor": "#000", "domainWidth": 1.5, "labelFont": "Liberation Sans", "labelFontSize": 28, "labelColor": "#000", "labelBaseline": "alphabetic", "labelPadding": 53, "labelFlush": false, "labelOverlap": false, "title": ["Volume", "Slice at NaCl = 19"], "titleFont": "Liberation Sans", "titleFontSize": 31, "titleFontWeight": "normal", "titleColor": "#000", "titleLineHeight": 39, "titleX": 366, "titleY": 107, "titleBaseline": "alphabetic", "titleAlign": "center"}},
"y": {"field": "T", "type": "quantitative", "scale": {"domain": [32.423, 67.627], "nice": false, "zero": false},
"axis": {"values": [35, 40, 45, 50, 55, 60, 65], "labelExpr": "datum.value % 10 == 5 ? datum.label : ''", "grid": false, "tickSize": 17, "tickColor": "#000", "tickWidth": 1.3, "domain": false, "labelFont": "Liberation Sans", "labelFontSize": 28, "labelColor": "#000", "labelAngle": -90, "labelAlign": "center", "labelBaseline": "alphabetic", "labelPadding": 36, "labelOverlap": false, "labelBound": false, "title": "Temperature", "titleFont": "Liberation Sans", "titleFontSize": 31, "titleFontWeight": "normal", "titleColor": "#000", "titleAngle": -90, "titleX": -124, "titleY": 208, "titleBaseline": "alphabetic", "titleAlign": "center"}},
"color": {"field": "z", "type": "quantitative", "legend": null,
"scale": {"type": "quantize", "domain": [-36.0, 43.4], "nice": false, "zero": false,
"range": ["#00A600","#07A800","#0EAB00","#16AE00","#1DB000","#25B300","#2DB600","#36B800","#3EBB00","#47BE00","#50C000","#59C300","#63C600","#6CC800","#76CB00","#80CE00","#8BD000","#95D300","#A0D600","#ABD800","#B6DB00","#C2DE00","#CDE000","#D9E300","#E6E600","#E6DD09","#E7D612","#E7CF1C","#E8C825","#E8C32E","#E9BE38","#E9BA41","#EAB74B","#EAB454","#EBB25E","#EBB167","#ECB171","#ECB17B","#EDB285","#EDB48E","#EEB798","#EEBAA2","#EFBFAC","#EFC4B6","#F0C9C0","#F0D0CA","#F1D7D4","#F1DFDE","#F2E8E8","#F2F2F2"]}}
}
},
{
"data": {"name": "lines"},
"mark": {"type": "line", "color": "#000", "strokeWidth": 1.2, "interpolate": "catmull-rom", "clip": true},
"encoding": {
"x": {"field": "V", "type": "quantitative"},
"y": {"field": "T", "type": "quantitative"},
"detail": {"field": "id", "type": "nominal"},
"order": {"value": null}
}
},
{
"data": {"name": "labels"},
"transform": [{"filter": {"field": "id", "oneOf": ["c10", "c20", "c30", "c40"]}}],
"mark": {"type": "text", "font": "Liberation Sans", "fontSize": 21, "color": "#111", "align": "center", "baseline": "alphabetic"},
"encoding": {"x": {"field": "V", "type": "quantitative"}, "y": {"field": "T", "type": "quantitative"}, "text": {"field": "text"}}
},
{
"data": {"name": "labels"},
"transform": [{"filter": {"field": "id", "oneOf": ["tl1", "br1"]}}],
"mark": {"type": "text", "font": "Liberation Sans", "fontSize": 21, "color": "#111", "align": "center", "baseline": "middle", "angle": -33},
"encoding": {"x": {"field": "V", "type": "quantitative"}, "y": {"field": "T", "type": "quantitative"}, "text": {"field": "text"}}
},
{
"data": {"name": "labels"},
"transform": [{"filter": {"field": "id", "oneOf": ["tr2", "bl2"]}}],
"mark": {"type": "text", "font": "Liberation Sans", "fontSize": 21, "color": "#111", "align": "center", "baseline": "middle", "angle": 33},
"encoding": {"x": {"field": "V", "type": "quantitative"}, "y": {"field": "T", "type": "quantitative"}, "text": {"field": "text"}}
},
{
"data": {"name": "labels"},
"transform": [{"filter": {"field": "id", "oneOf": ["tl0", "br0"]}}],
"mark": {"type": "text", "font": "Liberation Sans", "fontSize": 21, "color": "#111", "align": "center", "baseline": "middle", "angle": -22},
"encoding": {"x": {"field": "V", "type": "quantitative"}, "y": {"field": "T", "type": "quantitative"}, "text": {"field": "text"}}
},
{
"data": {"name": "labels"},
"transform": [{"filter": {"field": "id", "oneOf": ["tr0"]}}],
"mark": {"type": "text", "font": "Liberation Sans", "fontSize": 21, "color": "#111", "align": "center", "baseline": "middle", "angle": 40},
"encoding": {"x": {"field": "V", "type": "quantitative"}, "y": {"field": "T", "type": "quantitative"}, "text": {"field": "text"}}
},
{
"data": {"name": "labels"},
"transform": [{"filter": {"field": "id", "oneOf": ["bl0"]}}],
"mark": {"type": "text", "font": "Liberation Sans", "fontSize": 21, "color": "#111", "align": "center", "baseline": "middle", "angle": 17},
"encoding": {"x": {"field": "V", "type": "quantitative"}, "y": {"field": "T", "type": "quantitative"}, "text": {"field": "text"}}
}
]
}
